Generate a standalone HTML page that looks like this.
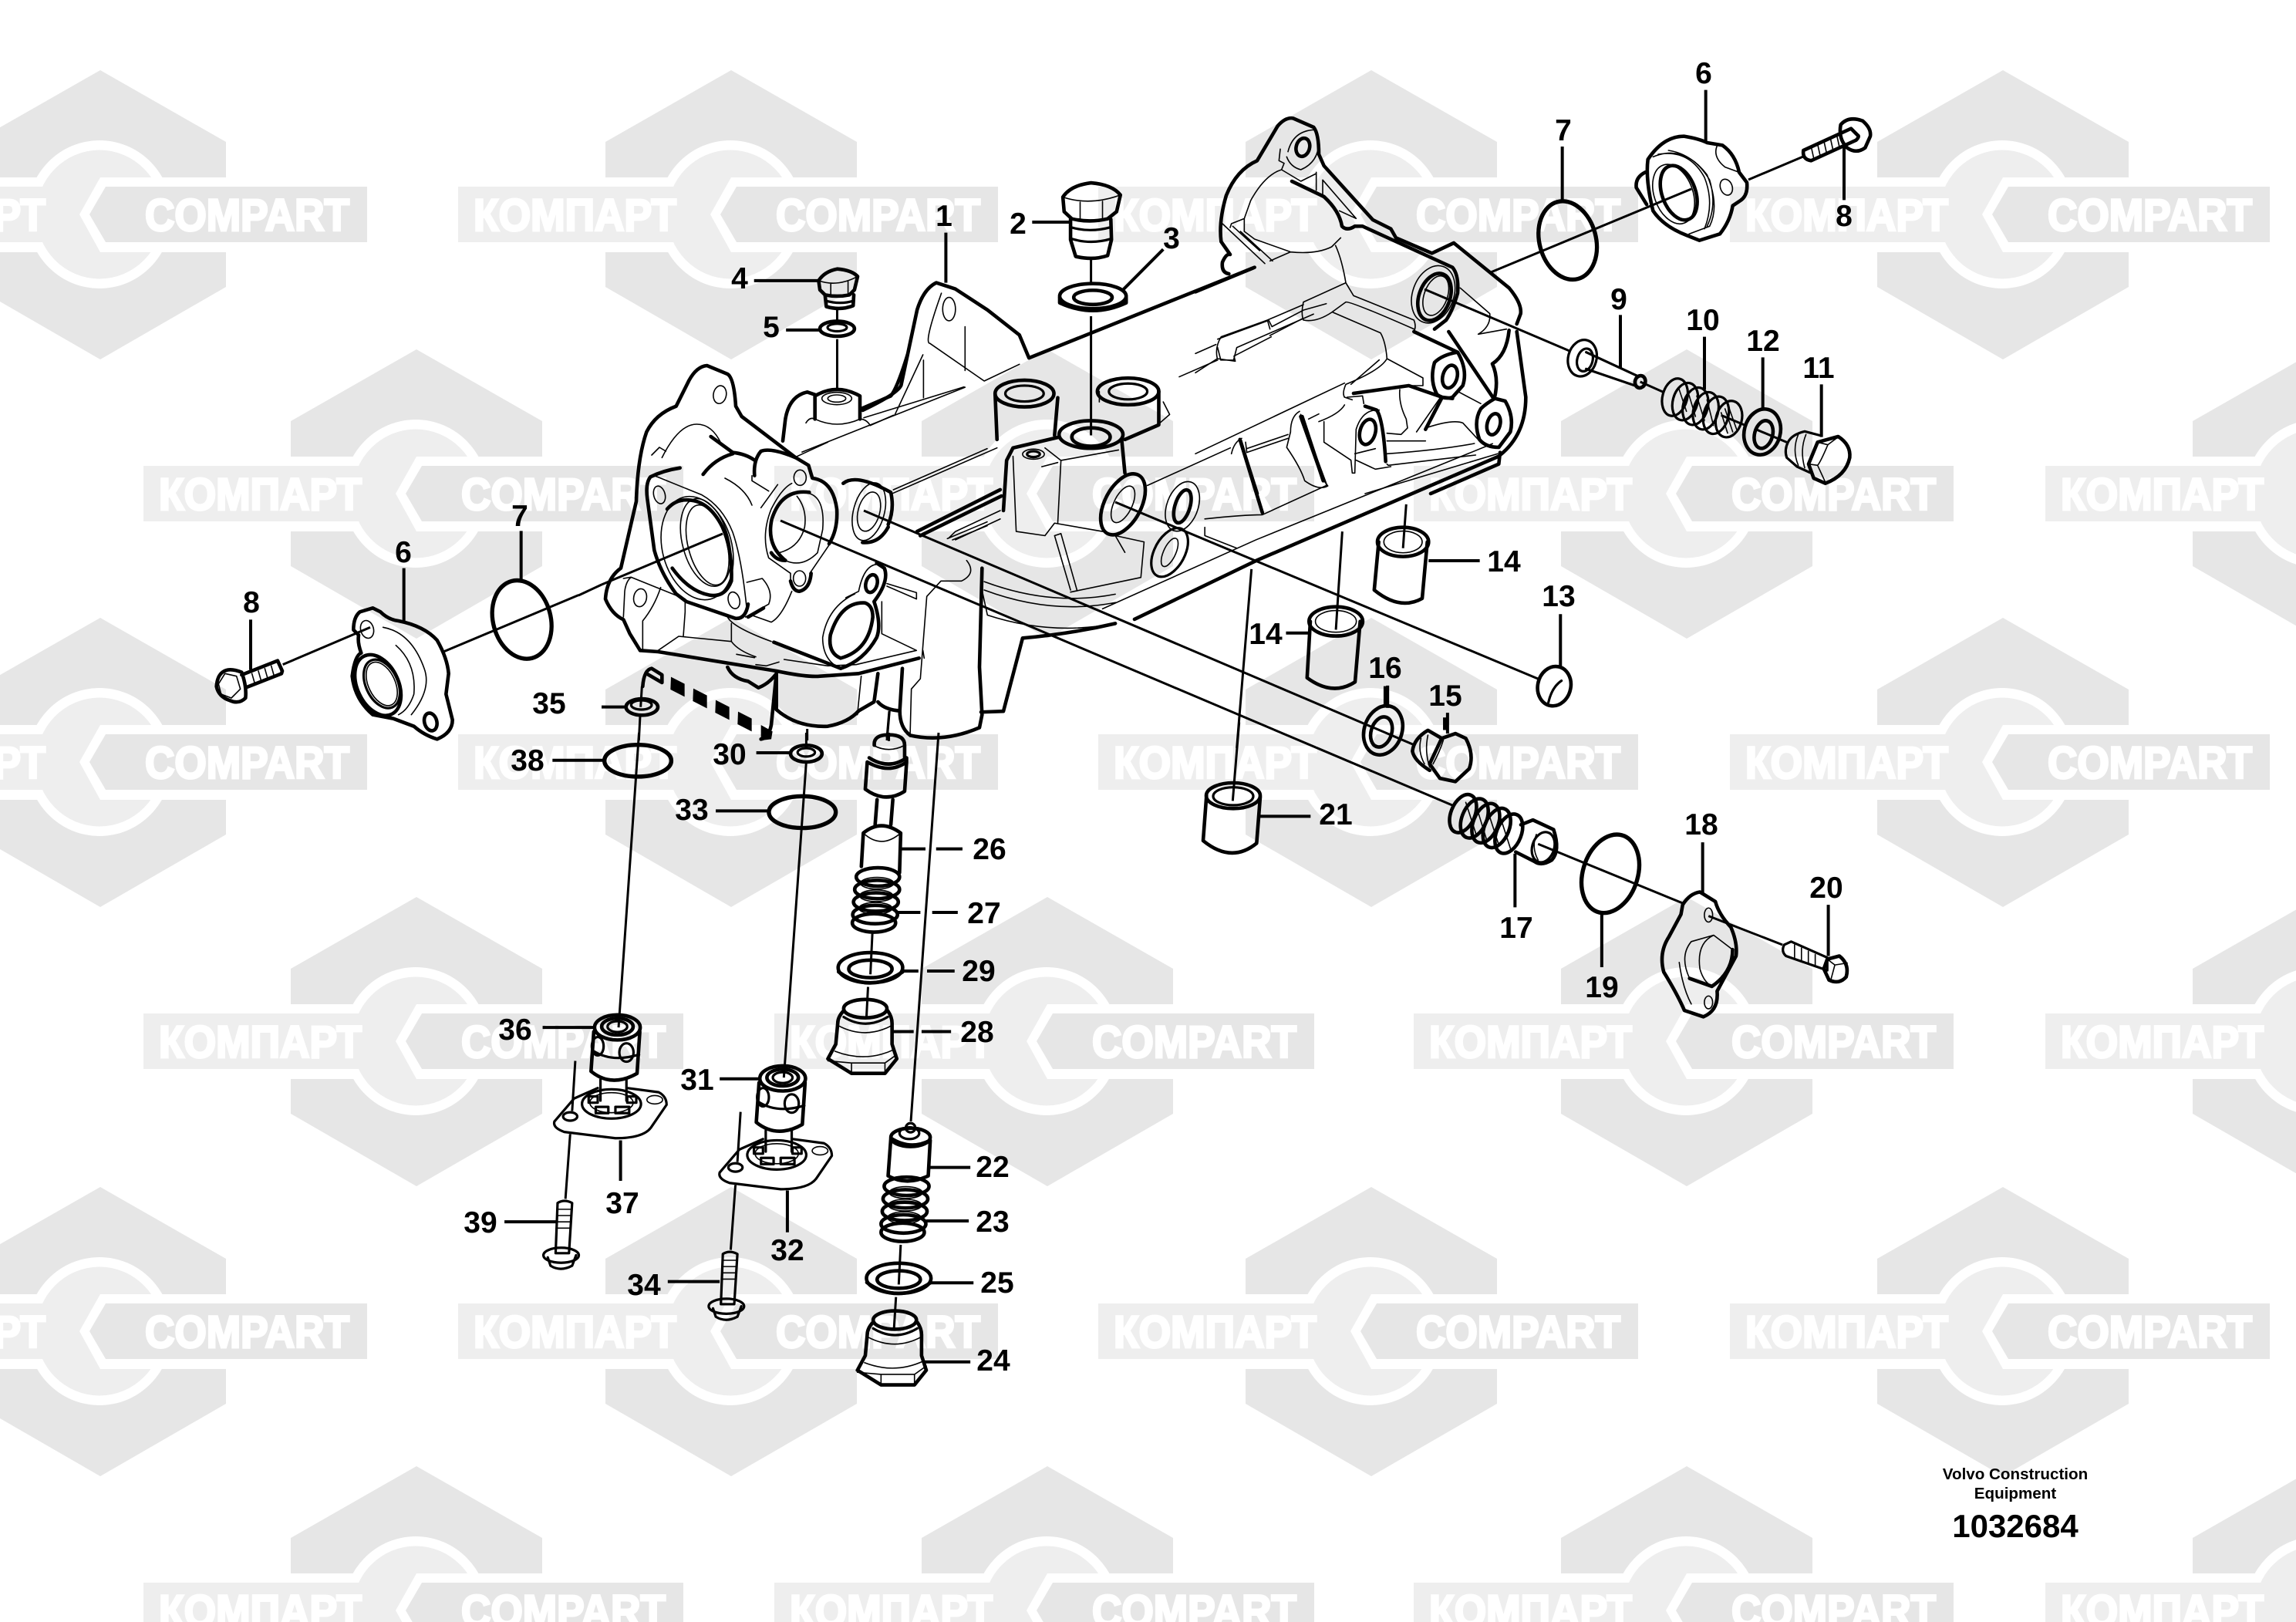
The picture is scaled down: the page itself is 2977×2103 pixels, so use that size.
<!DOCTYPE html>
<html><head><meta charset="utf-8"><title>Diagram 1032684</title>
<style>
html,body{margin:0;padding:0;background:#fff;width:2977px;height:2103px;overflow:hidden}
svg{display:block}
#art *{fill:none;stroke:#000;vector-effect:non-scaling-stroke;stroke-linejoin:round;stroke-linecap:round}
#art .t{stroke-width:4.6}
#art .o{stroke-width:5.4}
#art .m{stroke-width:3.2}
#art .n{stroke-width:1.6}
#art .l{stroke-width:3;stroke-linecap:butt}
#art .d{stroke-width:4;stroke-linecap:butt}
#art .f{fill:#000;stroke:none}
.c,.k{font:bold 58px "Liberation Sans",sans-serif;fill:#fff;stroke:#fff;stroke-width:3}
.b text{font:bold 39px "Liberation Sans",sans-serif;fill:#000;text-anchor:middle}
.v{font:bold 20.6px "Liberation Sans",sans-serif;fill:#000;text-anchor:middle}
.w{font:bold 42px "Liberation Sans",sans-serif;fill:#000;text-anchor:middle}
</style></head><body>
<svg xmlns="http://www.w3.org/2000/svg" width="2977" height="2103" viewBox="0 0 2977 2103">
<defs>
<g id="w">
<polygon fill="#e6e6e6" points="0,-187 163,-94 163,94 0,188 -163,94 -163,-94"/>
<rect x="-163" y="-48" width="326" height="97" fill="#fff"/>
<ellipse cx="-1" cy="0" rx="94" ry="96" fill="#fff"/>
<ellipse cx="-1" cy="0" rx="82" ry="83.5" fill="#eee"/>
<rect x="-354" y="-36" width="300" height="72" fill="#eee"/>
<polygon fill="#fff" points="0,-48 -27,0 0,49 90,49 90,-48"/>
<polygon fill="#e6e6e6" points="7,-36 -14,0 7,36 346,36 346,-36"/>
</g>
</defs>
<rect width="2977" height="2103" fill="#fff"/>
<!-- watermark -->
<g>
<use href="#w" x="130" y="278"/><use href="#w" x="948" y="278"/><use href="#w" x="1778" y="278"/><use href="#w" x="2597" y="278"/>
<use href="#w" x="540" y="640"/><use href="#w" x="1358" y="640"/><use href="#w" x="2187" y="640"/><use href="#w" x="3006" y="640"/>
<use href="#w" x="130" y="988"/><use href="#w" x="948" y="988"/><use href="#w" x="1778" y="988"/><use href="#w" x="2597" y="988"/>
<use href="#w" x="540" y="1350"/><use href="#w" x="1358" y="1350"/><use href="#w" x="2187" y="1350"/><use href="#w" x="3006" y="1350"/>
<use href="#w" x="130" y="1726"/><use href="#w" x="948" y="1726"/><use href="#w" x="1778" y="1726"/><use href="#w" x="2597" y="1726"/>
<use href="#w" x="540" y="2088"/><use href="#w" x="1358" y="2088"/><use href="#w" x="2187" y="2088"/><use href="#w" x="3006" y="2088"/>
</g>
<g>
<text class="k" x="-204" y="299" textLength="263" lengthAdjust="spacingAndGlyphs">КОМПАРТ</text><text class="c" x="188" y="299" textLength="265" lengthAdjust="spacingAndGlyphs">COMPART</text>
<text class="k" x="614" y="299" textLength="263" lengthAdjust="spacingAndGlyphs">КОМПАРТ</text><text class="c" x="1006" y="299" textLength="265" lengthAdjust="spacingAndGlyphs">COMPART</text>
<text class="k" x="1444" y="299" textLength="263" lengthAdjust="spacingAndGlyphs">КОМПАРТ</text><text class="c" x="1836" y="299" textLength="265" lengthAdjust="spacingAndGlyphs">COMPART</text>
<text class="k" x="2263" y="299" textLength="263" lengthAdjust="spacingAndGlyphs">КОМПАРТ</text><text class="c" x="2655" y="299" textLength="265" lengthAdjust="spacingAndGlyphs">COMPART</text>
<text class="k" x="206" y="661" textLength="263" lengthAdjust="spacingAndGlyphs">КОМПАРТ</text><text class="c" x="598" y="661" textLength="265" lengthAdjust="spacingAndGlyphs">COMPART</text>
<text class="k" x="1024" y="661" textLength="263" lengthAdjust="spacingAndGlyphs">КОМПАРТ</text><text class="c" x="1416" y="661" textLength="265" lengthAdjust="spacingAndGlyphs">COMPART</text>
<text class="k" x="1853" y="661" textLength="263" lengthAdjust="spacingAndGlyphs">КОМПАРТ</text><text class="c" x="2245" y="661" textLength="265" lengthAdjust="spacingAndGlyphs">COMPART</text>
<text class="k" x="2672" y="661" textLength="263" lengthAdjust="spacingAndGlyphs">КОМПАРТ</text>
<text class="k" x="-204" y="1009" textLength="263" lengthAdjust="spacingAndGlyphs">КОМПАРТ</text><text class="c" x="188" y="1009" textLength="265" lengthAdjust="spacingAndGlyphs">COMPART</text>
<text class="k" x="614" y="1009" textLength="263" lengthAdjust="spacingAndGlyphs">КОМПАРТ</text><text class="c" x="1006" y="1009" textLength="265" lengthAdjust="spacingAndGlyphs">COMPART</text>
<text class="k" x="1444" y="1009" textLength="263" lengthAdjust="spacingAndGlyphs">КОМПАРТ</text><text class="c" x="1836" y="1009" textLength="265" lengthAdjust="spacingAndGlyphs">COMPART</text>
<text class="k" x="2263" y="1009" textLength="263" lengthAdjust="spacingAndGlyphs">КОМПАРТ</text><text class="c" x="2655" y="1009" textLength="265" lengthAdjust="spacingAndGlyphs">COMPART</text>
<text class="k" x="206" y="1371" textLength="263" lengthAdjust="spacingAndGlyphs">КОМПАРТ</text><text class="c" x="598" y="1371" textLength="265" lengthAdjust="spacingAndGlyphs">COMPART</text>
<text class="k" x="1024" y="1371" textLength="263" lengthAdjust="spacingAndGlyphs">КОМПАРТ</text><text class="c" x="1416" y="1371" textLength="265" lengthAdjust="spacingAndGlyphs">COMPART</text>
<text class="k" x="1853" y="1371" textLength="263" lengthAdjust="spacingAndGlyphs">КОМПАРТ</text><text class="c" x="2245" y="1371" textLength="265" lengthAdjust="spacingAndGlyphs">COMPART</text>
<text class="k" x="2672" y="1371" textLength="263" lengthAdjust="spacingAndGlyphs">КОМПАРТ</text>
<text class="k" x="-204" y="1747" textLength="263" lengthAdjust="spacingAndGlyphs">КОМПАРТ</text><text class="c" x="188" y="1747" textLength="265" lengthAdjust="spacingAndGlyphs">COMPART</text>
<text class="k" x="614" y="1747" textLength="263" lengthAdjust="spacingAndGlyphs">КОМПАРТ</text><text class="c" x="1006" y="1747" textLength="265" lengthAdjust="spacingAndGlyphs">COMPART</text>
<text class="k" x="1444" y="1747" textLength="263" lengthAdjust="spacingAndGlyphs">КОМПАРТ</text><text class="c" x="1836" y="1747" textLength="265" lengthAdjust="spacingAndGlyphs">COMPART</text>
<text class="k" x="2263" y="1747" textLength="263" lengthAdjust="spacingAndGlyphs">КОМПАРТ</text><text class="c" x="2655" y="1747" textLength="265" lengthAdjust="spacingAndGlyphs">COMPART</text>
<text class="k" x="206" y="2109" textLength="263" lengthAdjust="spacingAndGlyphs">КОМПАРТ</text><text class="c" x="598" y="2109" textLength="265" lengthAdjust="spacingAndGlyphs">COMPART</text>
<text class="k" x="1024" y="2109" textLength="263" lengthAdjust="spacingAndGlyphs">КОМПАРТ</text><text class="c" x="1416" y="2109" textLength="265" lengthAdjust="spacingAndGlyphs">COMPART</text>
<text class="k" x="1853" y="2109" textLength="263" lengthAdjust="spacingAndGlyphs">КОМПАРТ</text><text class="c" x="2245" y="2109" textLength="265" lengthAdjust="spacingAndGlyphs">COMPART</text>
<text class="k" x="2672" y="2109" textLength="263" lengthAdjust="spacingAndGlyphs">КОМПАРТ</text>
</g>

<g id="art">
<!-- A: left end of body -->
<g transform="translate(780,460) scale(.33333)">
<path class="t" d="M150 1150L110 1085L85 1030Q40 1010 15 950Q20 870 75 830L135 570Q140 400 175 300Q210 230 290 200L340 100Q370 45 410 42L490 75Q515 90 522 200L545 240L755 400L805 430L820 480Q900 490 915 600Q920 680 885 735"/>
<path class="t" d="M808 535Q700 520 662 640Q640 740 715 800M305 440Q240 450 190 475Q170 500 178 560L205 760Q230 850 290 930L330 960L520 1025Q560 1030 570 970M255 600Q290 560 340 565Q420 570 470 670Q510 760 505 880Q480 945 420 935Q340 920 275 830"/>
<path class="t" d="M940 500Q990 460 1125 535Q1140 600 1115 660M1115 670Q1080 735 1015 730M705 335L715 250Q730 160 800 145L830 155M830 250V160Q915 110 1005 160V250M1010 210L1125 160Q1150 130 1190 0"/>
<path class="t" d="M425 318L510 380Q560 385 595 410M595 470Q590 410 620 375Q660 360 755 400M395 465Q440 405 510 385M735 880Q745 920 770 920Q810 910 815 850M660 770Q680 800 715 800"/>
<path class="t" d="M150 1150L220 1155L680 1230Q800 1255 850 1250L1000 1240L1235 1180M1025 965Q930 960 890 1090Q880 1160 930 1180Q1040 1150 1055 1020Q1055 975 1025 965M1070 810L1100 830Q1120 880 1060 960Q1090 1050 1070 1100Q1020 1190 930 1220L880 1200L670 1118M630 985L570 1020"/>
<path class="t" d="M490 1215Q510 1260 570 1270L610 1295Q650 1280 680 1240L660 1440Q650 1490 620 1495M680 1240V1380Q760 1450 880 1445Q960 1430 1000 1385L1060 1350L1075 1240M1075 1350Q1100 1380 1160 1385L1170 1220M1160 1385Q1160 1450 1200 1480Q1330 1510 1470 1450L1480 1400L1470 1215L1480 830"/>
<ellipse class="t" cx="1050" cy="890" rx="22" ry="35" transform="rotate(15 1050 890)"/>
<ellipse class="n" cx="372" cy="752" rx="135" ry="205" transform="rotate(-15 372 752)"/>
<ellipse class="n" cx="405" cy="730" rx="90" ry="175" transform="rotate(-15 405 730)"/>
<ellipse class="n" cx="412" cy="740" rx="75" ry="160" transform="rotate(-15 412 740)"/>
<ellipse class="n" cx="225" cy="545" rx="22" ry="35" transform="rotate(-15 225 545)"/>
<ellipse class="n" cx="515" cy="955" rx="22" ry="33" transform="rotate(-15 515 955)"/>
<ellipse class="n" cx="460" cy="155" rx="25" ry="35" transform="rotate(10 460 155)"/>
<ellipse class="n" cx="150" cy="945" rx="25" ry="35" transform="rotate(10 150 945)"/>
<ellipse class="n" cx="772" cy="478" rx="24" ry="30"/><ellipse class="n" cx="770" cy="870" rx="24" ry="30"/>
<ellipse class="n" cx="1040" cy="610" rx="60" ry="115" transform="rotate(15 1040 610)"/>
<ellipse class="n" cx="1040" cy="610" rx="42" ry="78" transform="rotate(15 1040 610)"/>
<ellipse class="n" cx="915" cy="170" rx="58" ry="24"/><ellipse class="n" cx="915" cy="170" rx="35" ry="14"/>
<path class="n" d="M205 470L390 545Q470 590 510 690Q545 790 565 990M830 250Q915 290 1005 250M795 265Q810 240 830 250M1005 250Q1030 250 1045 275L1135 235M1250 0L1140 235M1410 125L1020 245M750 400L880 340M1135 525L1500 365M1500 650L1345 715M1500 665L1365 720"/>
<path class="n" d="M235 400Q300 270 370 270Q430 270 465 345M195 390L225 360L250 375M585 470V490L650 530M685 505L620 595M480 480Q560 520 585 585M740 500Q700 520 660 600Q620 700 650 790L735 850V880M810 850L885 740M760 550Q800 600 790 670Q770 750 690 770M810 540Q870 560 860 680L840 770Q780 830 715 800"/>
<path class="n" d="M220 1150L300 1095L505 1115M985 930Q880 980 860 1100Q860 1190 930 1220M1070 815Q1020 820 1000 920L950 945M85 870L115 865L325 950V1000L318 1095M85 1020L90 920Q95 880 115 865M160 1150V1035Q205 980 230 905M565 885L625 870Q670 920 650 970L560 1020M740 920Q700 1020 660 1040L590 1015M490 1020Q510 1060 660 1115M505 1045V1115Q530 1150 600 1175M525 1165L595 1178M690 1195L640 1210L600 1205M710 1185L880 1210L990 1205L1225 1150L1090 1085V960M1110 890L1225 925V950L1110 900M1010 1250L995 1400M1200 1485L1205 1300L1240 1260L1265 940L1320 880H1400Q1460 850 1420 800M1250 1150L1255 1180"/>
<!-- dashed bracket 35-30 -->
<path class="t" d="M160 1290Q165 1225 195 1220L235 1245V1275L175 1240"/>
<polygon class="f" points="270,1253 323,1280 323,1330 268,1302"/>
<polygon class="f" points="357,1298 410,1325 410,1375 355,1347"/>
<polygon class="f" points="444,1343 497,1370 497,1420 442,1392"/>
<polygon class="f" points="531,1388 584,1415 584,1465 529,1437"/>
<polygon class="f" points="620,1440 665,1465 660,1495 620,1500"/>
<!-- washer 35 -->
<ellipse class="t" cx="157" cy="1370" rx="62" ry="32"/><ellipse class="m" cx="155" cy="1362" rx="40" ry="18"/>
<path class="l" d="M157 1290L152 1370M150 1405L145 1500M800 1455V1500M1120 1385L1110 1500"/>
<path class="d" d="M0 1370H90"/>
</g>
<!-- B: right end of body -->
<g transform="translate(1550,140) scale(.33333)">
<path class="t" d="M0 715L230 620M130 645Q100 640 105 600Q120 565 135 570L100 520Q90 440 120 340Q160 240 240 205L320 70Q350 35 380 40L460 75Q480 100 480 180L500 225L690 435L760 470L780 505L920 565L1005 525L1220 700Q1270 760 1265 800L1250 840"/>
<path class="t" d="M375 285L500 345Q560 400 570 460Q590 480 620 460H650L1000 620Q1025 650 1020 720Q1000 790 975 825L930 860M615 1110L830 1080L960 1125L1000 1130M850 870L1020 950Q1060 1020 1040 1080L1000 1125Q970 1135 940 1115Q910 1060 930 990Q960 960 1020 950M985 870L1160 1130M1220 865Q1210 960 1155 995Q1180 1050 1165 1120M1250 870L1285 1125Q1285 1270 1185 1350M1165 1130L1205 1140Q1240 1200 1225 1260L1180 1320Q1130 1320 1105 1290Q1080 1220 1110 1170Q1130 1150 1165 1130M960 1125L895 1250M660 1160L705 1175Q730 1210 740 1375M415 1200L497 1450M175 1295L240 1500M1185 1340L1180 1385L915 1500"/>
<ellipse class="t" cx="930" cy="735" rx="60" ry="95" transform="rotate(20 930 735)"/>
<ellipse class="n" cx="925" cy="725" rx="80" ry="115" transform="rotate(20 925 725)"/>
<ellipse class="n" cx="935" cy="730" rx="45" ry="80" transform="rotate(20 935 730)"/>
<ellipse class="t" cx="418" cy="153" rx="26" ry="36" transform="rotate(15 418 153)"/>
<ellipse class="t" cx="990" cy="1045" rx="28" ry="45" transform="rotate(15 990 1045)"/>
<ellipse class="t" cx="1160" cy="1230" rx="25" ry="42" transform="rotate(15 1160 1230)"/>
<ellipse class="t" cx="670" cy="1260" rx="30" ry="50" transform="rotate(15 670 1260)"/>
<path class="n" d="M360 170Q380 90 460 85M355 190Q370 230 410 240Q480 210 480 130M330 160L325 205L345 215L335 240Q270 260 215 360L190 430L140 450L135 465M335 240L410 285L470 255M470 250V320M495 280V345M495 280L625 430L560 400M190 430V480L230 510L370 560Q470 570 530 540L565 505M370 560L290 595M105 450L270 605M145 460L250 555M175 480L300 595"/>
<path class="n" d="M545 535Q570 590 585 680L420 755Q410 800 420 825Q470 835 530 795L585 755Q600 750 850 860M585 680L615 730L850 825Q860 850 850 870M420 765L280 825L290 860M415 820L290 885M535 795L720 875Q740 910 745 975L885 1050V1080H830M745 975Q720 1020 585 1075Q570 1110 580 1125L610 1135M715 980L605 1075M280 825L100 890Q75 930 85 975L155 985L150 965L295 890M80 920L0 955M85 975L0 1030"/>
<path class="n" d="M950 1130L860 1260M895 1245Q1000 1210 1040 1225L1100 1290M1025 1105L1110 1150M795 1095Q790 1150 820 1210L825 1245L800 1270L745 1265M745 1295H895M745 1345Q950 1330 1085 1305M745 1385L750 1390L1090 1350M715 1175Q650 1170 625 1250L620 1420H610L605 1370L500 1300V1220M620 1345L700 1325M625 1370L700 1405L760 1395M580 1155Q560 1190 480 1220M590 1125L650 1120L655 1150M405 1180Q370 1200 370 1260L355 1320Q410 1400 425 1450Q480 1490 515 1470L500 1450M180 1285Q150 1300 140 1345M195 1300L200 1340M580 1070L0 1345M360 1285L200 1340M360 1270L200 1325M440 1210L480 1190M1175 1345L660 1500M1030 700L1145 800Q1150 850 1100 880L1210 860"/>
</g>
<!-- C: mid body, plugs, bushes -->
<g transform="translate(700,120) scale(.829,.542)">
<path class="t" d="M505 760Q560 720 565 700L590 520Q600 470 620 455L650 470L700 520L750 580L765 635L1115 420M755 1305L725 1480L690 1482M755 1305Q830 1295 900 1270M930 1260L1120 1120L1500 870"/>
<path class="n" d="M628 480Q600 600 610 600L695 690L750 650M600 640V730M665 705L410 860M665 560V665M550 960L715 850M950 940L1080 850M1060 610L1065 640H1085L1090 610L1210 530M1060 590L1140 545L1145 560L1195 520L1230 505M1000 680L1060 640M975 740L985 770L970 790M880 1235L1120 1070L1490 840M690 1180L700 1250Q800 1300 900 1270M695 1170Q800 1230 900 1200M695 1190Q800 1250 900 1220M830 1190L805 1060L815 1055L840 1190M830 1195L940 1160L945 1075L900 1060L915 1100M1040 1020Q1100 1010 1130 1010L1230 940V935L1190 770M1040 1040V1060L1090 1090"/>
<ellipse class="n" cx="640" cy="518" rx="10" ry="28"/>
<path class="t" d="M590 1050L720 950M595 1060L722 965M1095 830L1130 1005M1190 775L1225 925"/>
<!-- tubes -->
<ellipse class="t" cx="758" cy="720" rx="46" ry="32"/><ellipse class="m" cx="758" cy="720" rx="30" ry="19"/>
<path class="t" d="M712 720L715 830M810 730L805 820"/>
<ellipse class="t" cx="920" cy="715" rx="48" ry="32"/><ellipse class="m" cx="920" cy="715" rx="30" ry="19"/>
<path class="t" d="M968 715V795L915 830"/><path class="n" d="M875 715V740"/>
<ellipse class="t" cx="862" cy="818" rx="50" ry="33"/><ellipse class="t" cx="862" cy="824" rx="30" ry="22"/>
<path class="t" d="M910 830L915 910M810 825L740 850L730 880L725 1000"/>
<ellipse class="n" cx="772" cy="865" rx="17" ry="12"/><ellipse class="m" cx="772" cy="865" rx="10" ry="7"/>
<path class="n" d="M790 850L815 880L905 855M785 895L810 885M740 870L745 1050L790 1060L805 1030L880 1050M815 880L810 1030M720 1000L650 1050L640 1065M720 1020L650 1070"/>
<ellipse class="t" cx="912" cy="985" rx="30" ry="75" transform="rotate(15 912 985)"/><ellipse class="n" cx="912" cy="985" rx="15" ry="45" transform="rotate(15 912 985)"/>
<ellipse class="n" cx="1005" cy="990" rx="25" ry="60" transform="rotate(10 1005 990)"/><ellipse class="t" cx="1005" cy="990" rx="12" ry="40" transform="rotate(10 1005 990)"/>
<ellipse class="m" cx="985" cy="1100" rx="25" ry="60" transform="rotate(15 985 1100)"/><ellipse class="n" cx="985" cy="1100" rx="10" ry="35" transform="rotate(15 985 1100)"/>
<!-- plug 2 -->
<path class="t" d="M818 250Q830 222 862 216Q895 220 908 245L902 285L888 302Q860 312 832 302L820 285ZM830 303V352L838 392Q865 402 888 390L894 352L893 303"/>
<path class="n" d="M818 250Q860 272 908 245M845 262V306M880 260V304"/>
<path class="m" d="M830 322Q860 336 893 322M832 350Q862 364 893 350"/>
<!-- washer 3 -->
<ellipse class="t" cx="865" cy="487" rx="52" ry="30"/><path class="t" d="M813 490V503Q865 540 917 503V490"/><ellipse class="t" cx="865" cy="490" rx="30" ry="17"/>
<!-- plug 4 -->
<path class="t" d="M436 450Q445 428 465 422Q488 425 497 440L492 472L484 484Q465 490 446 484L438 472ZM446 484L448 512Q470 522 490 510L491 484"/>
<path class="n" d="M436 450Q465 466 497 440M455 458V482M482 452V480"/><path class="m" d="M447 498Q470 508 491 498"/>
<ellipse class="t" cx="465" cy="565" rx="27" ry="18"/><ellipse class="m" cx="465" cy="562" rx="15" ry="9"/>
<!-- bushes 14 -->
<ellipse class="t" cx="1350" cy="1075" rx="40" ry="35"/><ellipse class="n" cx="1350" cy="1075" rx="30" ry="26"/>
<path class="t" d="M1312 1075L1305 1190Q1345 1240 1380 1210L1388 1075"/>
<ellipse class="t" cx="1245" cy="1265" rx="42" ry="35"/><ellipse class="n" cx="1245" cy="1265" rx="32" ry="26"/>
<path class="t" d="M1205 1265L1200 1400Q1240 1445 1275 1410L1283 1265"/>
<path class="l" d="M465 515V545M465 590V710M862 395V455M862 535V820M1355 985L1350 1090M1255 1050L1245 1285M1113 1140L1090 1568"/>
<path class="d" d="M635 335V455M770 310H830M975 375L910 475M335 450H435M385 568H440M1390 1120H1470M1167 1293H1205M1322 1420V1465M1415 1495V1525"/>
</g>
<!-- long exploded lines -->
<path class="l" d="M780 758L937 692M1012 675L1883 1044M1120 662L1834 966M1446 651L1994 880"/>
<path class="l" d="M750 772L780 758M1847 375L2035 455M1933 353L2193 245M2267 233L2338 203"/>
<path class="l" d="M1217 950L1181 1454M1153 922L1150 957"/>
<!-- D: lower stack -->
<g transform="translate(650,950) scale(.5102,.542)">
<ellipse class="o" cx="347" cy="67" rx="85" ry="38"/><ellipse class="o" cx="765" cy="190" rx="85" ry="38"/>
<ellipse class="t" cx="775" cy="50" rx="40" ry="20"/><ellipse class="m" cx="775" cy="47" rx="22" ry="10"/>
<path class="l" d="M350 0L298 705M775 0V35M775 70L718 825"/>
<!-- 26 -->
<path class="t" d="M948 30Q945 5 985 5Q1025 5 1025 30V60M935 60Q985 90 1030 60V70Q985 100 930 70L925 135Q975 170 1025 140L1030 70M955 160L950 220M995 160L990 220M920 240Q965 205 1015 240L1012 335M920 240L915 320"/>
<path class="n" d="M945 30Q985 50 1025 30M920 240Q965 280 1015 240"/>
<path class="l" d="M985 0V20"/>
<!-- 27 -->
<ellipse class="t" cx="957" cy="345" rx="55" ry="22"/><ellipse class="t" cx="955" cy="375" rx="57" ry="22"/><ellipse class="t" cx="952" cy="405" rx="57" ry="22"/><ellipse class="t" cx="950" cy="435" rx="57" ry="22"/><ellipse class="t" cx="947" cy="455" rx="55" ry="22"/>
<ellipse class="n" cx="955" cy="360" rx="42" ry="14"/><ellipse class="n" cx="953" cy="390" rx="42" ry="14"/><ellipse class="n" cx="951" cy="420" rx="42" ry="14"/>
<path class="l" d="M943 480L938 578M932 608L928 680"/>
<ellipse class="t" cx="938" cy="562" rx="82" ry="36"/><ellipse class="t" cx="938" cy="565" rx="55" ry="21"/><path class="t" d="M857 572Q935 625 1020 572"/>
<!-- 28 -->
<ellipse class="t" cx="925" cy="660" rx="55" ry="22"/>
<path class="t" d="M870 665Q855 680 855 695L850 745L830 780L890 815H975L1005 780L993 745L993 695Q993 680 982 665"/>
<path class="m" d="M870 680Q925 712 982 680"/>
<path class="n" d="M855 700Q925 735 993 700M848 762Q925 790 998 758M890 790V815M975 790V815M830 785L890 790H975L1005 770"/>
<!-- 24 -->
<g transform="translate(75,745)">
<ellipse class="t" cx="925" cy="660" rx="55" ry="22"/>
<path class="t" d="M870 665Q855 680 855 695L850 745L830 780L890 815H975L1005 780L993 745L993 695Q993 680 982 665"/>
<path class="m" d="M870 680Q925 712 982 680"/>
<path class="n" d="M855 700Q925 735 993 700M848 762Q925 790 998 758M890 790V815M975 790V815M830 785L890 790H975L1005 770"/>
</g>
<!-- 36 -->
<ellipse class="t" cx="295" cy="705" rx="58" ry="30"/><ellipse class="t" cx="295" cy="703" rx="40" ry="20"/><ellipse class="m" cx="295" cy="703" rx="25" ry="13"/>
<path class="t" d="M235 715L228 810Q280 850 345 815L352 715"/>
<ellipse class="m" cx="245" cy="750" rx="15" ry="22"/><ellipse class="m" cx="318" cy="765" rx="18" ry="22"/>
<path class="m" d="M232 760Q280 790 350 770M252 830V880M318 830V880M135 930L185 875L245 850M320 850L400 860Q420 870 420 890L380 945Q360 970 290 970L160 955Q130 945 135 930"/>
<ellipse class="m" cx="280" cy="888" rx="75" ry="35"/><ellipse class="n" cx="280" cy="885" rx="55" ry="24"/>
<path class="m" d="M222 870H245V885H222ZM320 870H343V885H320ZM240 895H272V910H240ZM290 895H325V910H290Z"/>
<ellipse class="m" cx="175" cy="918" rx="18" ry="10"/><ellipse class="n" cx="390" cy="878" rx="20" ry="10"/>
<path class="l" d="M188 785L180 905M175 960L163 1115"/>
<!-- 31 -->
<g transform="translate(420,122)">
<ellipse class="t" cx="295" cy="705" rx="58" ry="30"/><ellipse class="t" cx="295" cy="703" rx="40" ry="20"/><ellipse class="m" cx="295" cy="703" rx="25" ry="13"/>
<path class="t" d="M235 715L228 810Q280 850 345 815L352 715"/>
<ellipse class="m" cx="245" cy="750" rx="15" ry="22"/><ellipse class="m" cx="318" cy="765" rx="18" ry="22"/>
<path class="m" d="M232 760Q280 790 350 770M252 830V880M318 830V880M135 930L185 875L245 850M320 850L400 860Q420 870 420 890L380 945Q360 970 290 970L160 955Q130 945 135 930"/>
<ellipse class="m" cx="280" cy="888" rx="75" ry="35"/><ellipse class="n" cx="280" cy="885" rx="55" ry="24"/>
<path class="m" d="M222 870H245V885H222ZM320 870H343V885H320ZM240 895H272V910H240ZM290 895H325V910H290Z"/>
<ellipse class="m" cx="175" cy="918" rx="18" ry="10"/><ellipse class="n" cx="390" cy="878" rx="20" ry="10"/>
<path class="l" d="M188 785L180 905M175 960L163 1115"/>
</g>
<!-- bolt 39 -->
<path class="m" d="M143 1125Q160 1115 180 1125L172 1245H138ZM118 1255L125 1275Q150 1290 180 1275L190 1250"/><ellipse class="m" cx="152" cy="1250" rx="45" ry="18"/>
<path class="n" d="M142 1140H178M141 1155H177M140 1170H176M139 1185H175"/>
<!-- bolt 34 -->
<g transform="translate(420,122)">
<path class="m" d="M143 1125Q160 1115 180 1125L172 1245H138ZM118 1255L125 1275Q150 1290 180 1275L190 1250"/><ellipse class="m" cx="152" cy="1250" rx="45" ry="18"/>
<path class="n" d="M142 1140H178M141 1155H177M140 1170H176M139 1185H175"/>
</g>
<!-- 22 -->
<path class="t" d="M990 970Q1040 1000 1090 975L1085 1060Q1030 1085 983 1060Z"/>
<ellipse class="t" cx="1040" cy="968" rx="50" ry="22"/><ellipse class="m" cx="1037" cy="958" rx="25" ry="14"/><ellipse class="m" cx="1040" cy="945" rx="12" ry="11"/>
<!-- 23 -->
<ellipse class="t" cx="1030" cy="1085" rx="57" ry="22"/><ellipse class="t" cx="1027" cy="1115" rx="57" ry="22"/><ellipse class="t" cx="1025" cy="1145" rx="57" ry="22"/><ellipse class="t" cx="1022" cy="1175" rx="57" ry="22"/><ellipse class="t" cx="1020" cy="1195" rx="55" ry="22"/>
<ellipse class="n" cx="1028" cy="1100" rx="42" ry="14"/><ellipse class="n" cx="1026" cy="1130" rx="42" ry="14"/><ellipse class="n" cx="1024" cy="1160" rx="42" ry="14"/>
<path class="l" d="M1015 1225L1010 1320M1003 1350L998 1425"/>
<ellipse class="t" cx="1010" cy="1305" rx="82" ry="36"/><ellipse class="t" cx="1010" cy="1308" rx="55" ry="21"/><path class="t" d="M929 1315Q1007 1368 1092 1315"/>
<path class="d" d="M1012 278H1078M1105 278H1172M1005 430H1065M1095 430H1160M1022 570H1060M1082 570H1152M990 715H1048M1068 715H1143M105 705H235M555 828H655M1085 1040H1192M1080 1168H1188M1090 1316H1200M1075 1505H1192M303 975V1072M727 1095V1195M423 1313H555M8 1170H140M130 66H262M545 187H680M648 48H735"/>
</g>
<!-- part 21 -->
<g transform="translate(1500,920) scale(.33333)">
<ellipse class="t" cx="297" cy="335" rx="105" ry="50"/><ellipse class="m" cx="297" cy="337" rx="78" ry="35"/>
<path class="t" d="M193 335L180 510Q290 600 388 520L402 340"/>
<path class="l" d="M320 50L295 355"/>
<path class="d" d="M400 415H598"/>
</g>
<!-- E: right-lower parts -->
<g transform="translate(1780,700) scale(.4464,.415)">
<ellipse class="t" cx="527" cy="457" rx="48" ry="62" transform="rotate(10 527 457)"/>
<path class="m" d="M548 440Q520 460 510 508"/>
<path class="d" d="M545 232V400M43 455V525M217 540V605M413 980V1148M665 1170V1335M958 945V1105M1323 1140V1300"/>
<ellipse class="t" cx="30" cy="595" rx="55" ry="78" transform="rotate(15 30 595)"/><ellipse class="t" cx="25" cy="600" rx="30" ry="48" transform="rotate(15 25 600)"/>
<path class="t" d="M200 620L240 605L270 620Q295 670 280 715L240 755L195 745L165 700ZM200 620L160 595Q120 620 115 660Q120 690 165 720"/>
<path class="n" d="M205 625Q195 660 175 700M140 620Q130 660 150 700M160 610Q150 660 165 710"/>
<ellipse class="t" cx="262" cy="855" rx="35" ry="62" transform="rotate(20 262 855)"/><ellipse class="t" cx="295" cy="870" rx="36" ry="64" transform="rotate(20 295 870)"/><ellipse class="t" cx="328" cy="885" rx="36" ry="64" transform="rotate(20 328 885)"/><ellipse class="t" cx="360" cy="900" rx="36" ry="64" transform="rotate(20 360 900)"/><ellipse class="t" cx="395" cy="918" rx="36" ry="64" transform="rotate(20 395 918)"/>
<path class="n" d="M270 820L300 920M300 830L330 935M335 850L365 950M370 865L400 965"/>
<path class="t" d="M430 890L465 875L525 905Q545 970 520 1000Q490 1020 470 1005L415 975"/>
<ellipse class="m" cx="495" cy="960" rx="32" ry="48" transform="rotate(15 495 960)"/><path class="n" d="M475 920Q460 960 480 1000"/>
<path class="l" d="M480 950L900 1135M975 1175L1190 1265"/>
<ellipse class="o" cx="690" cy="1043" rx="80" ry="125" transform="rotate(15 690 1043)"/>
<path class="t" d="M900 1140Q920 1105 950 1100L995 1130Q1005 1170 1040 1210Q1060 1260 1055 1300Q1020 1370 1000 1410Q1005 1470 960 1490L905 1470Q885 1420 845 1350Q830 1290 860 1240L895 1170Z"/>
<ellipse class="n" cx="975" cy="1172" rx="12" ry="22"/><ellipse class="n" cx="975" cy="1445" rx="12" ry="20"/>
<path class="n" d="M925 1255L990 1235L1045 1280M920 1370Q890 1300 925 1255M990 1235Q940 1260 950 1340Q960 1380 985 1395M890 1320Q900 1400 925 1450"/>
<path class="t" d="M1045 1280Q1045 1350 985 1395L920 1370"/>
<path class="m" d="M1195 1265L1215 1255L1320 1305V1345L1200 1300Q1185 1285 1195 1265"/>
<path class="n" d="M1225 1265V1305M1245 1275V1315M1265 1285V1322M1285 1295V1330M1320 1310L1342 1328L1378 1322M1342 1328L1330 1376"/>
<path class="t" d="M1320 1310L1355 1300Q1385 1325 1375 1365Q1355 1390 1325 1375L1310 1340Z"/>
</g>
<!-- F: upper right parts -->
<g transform="translate(1950,60) scale(.33333)">
<path class="t" d="M560 440Q620 350 700 350Q760 360 790 375L850 385Q900 420 915 490L945 530Q950 580 920 600L890 620Q880 680 840 730L760 755L710 735Q620 700 580 640Q550 520 560 440M550 490Q510 510 515 550L555 615"/>
<ellipse class="t" cx="680" cy="570" rx="65" ry="110" transform="rotate(-20 680 570)"/>
<ellipse class="n" cx="660" cy="575" rx="75" ry="120" transform="rotate(-20 660 575)"/>
<path class="n" d="M830 385Q810 430 860 470L915 490M580 430Q700 380 790 500Q840 620 800 700L720 730M640 405Q740 420 800 520Q830 620 790 700M600 420Q720 400 780 510Q820 610 780 710"/>
<ellipse class="n" cx="865" cy="548" rx="23" ry="32" transform="rotate(-20 865 548)"/>
<path class="d" d="M785 170V370M227 390V600M1323 390V598M453 1045V1250M780 1130V1335M1007 1210V1410"/>
<ellipse class="o" cx="248" cy="755" rx="110" ry="155" transform="rotate(-15 248 755)"/>
<path class="t" d="M1310 305Q1340 270 1395 290Q1430 320 1425 350L1405 395Q1370 420 1335 395Q1300 360 1310 305M1165 405L1350 320L1375 345Q1385 350 1370 365L1195 445Q1160 440 1165 405"/>
<path class="n" d="M1195 390L1205 435M1220 380L1230 425M1245 370L1255 415M1270 358L1280 403M1295 347L1305 392"/>
<!-- 9 -->
<ellipse class="m" cx="305" cy="1213" rx="55" ry="72" transform="rotate(15 305 1213)"/><ellipse class="m" cx="315" cy="1220" rx="30" ry="45" transform="rotate(15 315 1220)"/>
<path class="m" d="M320 1190L525 1285M320 1255L510 1320"/><ellipse class="t" cx="530" cy="1305" rx="20" ry="24" transform="rotate(15 530 1305)"/>
</g>
<!-- part 10,12,11 -->
<g transform="translate(2100,460) scale(.33333)">
<path class="l" d="M80 105L170 145M395 235L490 275M530 290L650 340"/>
<ellipse class="m" cx="215" cy="165" rx="48" ry="74" transform="rotate(15 215 165)"/><ellipse class="m" cx="255" cy="182" rx="48" ry="74" transform="rotate(15 255 182)"/><ellipse class="m" cx="295" cy="200" rx="48" ry="74" transform="rotate(15 295 200)"/><ellipse class="m" cx="335" cy="218" rx="48" ry="74" transform="rotate(15 335 218)"/><ellipse class="m" cx="375" cy="235" rx="48" ry="74" transform="rotate(15 375 235)"/><ellipse class="m" cx="425" cy="250" rx="50" ry="72" transform="rotate(15 425 250)"/>
<path class="n" d="M230 130L260 220M265 140L295 240M300 160L330 255M340 175L365 275M410 210L440 300M425 205L455 290M395 225L420 305"/>
<ellipse class="t" cx="555" cy="300" rx="70" ry="90" transform="rotate(15 555 300)"/><ellipse class="t" cx="560" cy="310" rx="35" ry="55" transform="rotate(15 560 310)"/>
<path class="t" d="M770 340L850 318Q900 350 895 400Q880 470 800 500L755 480L735 425Z"/>
<path class="m" d="M785 315L720 298Q670 310 655 340Q640 370 650 400L690 435L740 458"/>
<path class="n" d="M770 340L810 350L850 320M810 350Q780 420 770 430L735 425M770 430L800 495M695 310Q670 370 695 430M725 310Q700 370 720 440"/>
<path class="d" d="M785 115V320"/>
</g>
<!-- G: left flange and bolt -->
<g transform="translate(250,660) scale(.33333)">
<path class="t" d="M115 635Q140 615 190 635Q210 690 205 735Q180 760 145 745Q100 730 92 690Q95 650 115 635M190 645L330 590L348 630L345 640L205 695"/>
<path class="n" d="M125 640L170 650L185 700L150 735L110 720L100 680ZM230 640L240 675M255 630L265 665M280 620L290 655M305 610L315 645"/>
<path class="l" d="M350 605L690 460M975 555L1500 335"/>
<path class="d" d="M225 430V625M821 230V435M1277 85V275"/>
<path class="t" d="M625 470Q625 420 650 400L700 385L730 400Q760 430 800 435Q900 455 950 510Q990 580 995 640L985 720L1010 820Q1010 870 950 895Q900 880 860 845L780 815L700 800Q630 740 620 650Q630 570 655 560Q640 520 645 490Z"/>
<ellipse class="t" cx="720" cy="685" rx="80" ry="125" transform="rotate(-25 720 685)"/>
<ellipse class="m" cx="735" cy="680" rx="62" ry="100" transform="rotate(-25 735 680)"/>
<ellipse class="n" cx="735" cy="680" rx="52" ry="90" transform="rotate(-25 735 680)"/>
<path class="n" d="M740 460Q850 480 900 620Q930 700 850 800M790 530Q870 600 860 720Q840 780 800 800"/>
<ellipse class="t" cx="925" cy="828" rx="24" ry="35" transform="rotate(-15 925 828)"/>
<ellipse class="n" cx="678" cy="468" rx="25" ry="35" transform="rotate(-15 678 468)"/>
<ellipse class="o" cx="1280" cy="430" rx="112" ry="155" transform="rotate(-15 1280 430)"/>
</g>
</g>
<!-- labels -->
<g class="b">
<text x="1224" y="293">1</text><text x="1320" y="303">2</text><text x="1519" y="322">3</text><text x="959" y="374">4</text><text x="1000" y="437">5</text>
<text x="2209" y="108">6</text><text x="523" y="729">6</text><text x="2027" y="182">7</text><text x="674" y="682">7</text><text x="2391" y="293">8</text><text x="326" y="794">8</text>
<text x="2099" y="401">9</text><text x="2208" y="428">10</text><text x="2358" y="490">11</text><text x="2286" y="455">12</text><text x="2021" y="786">13</text>
<text x="1950" y="741">14</text><text x="1641" y="835">14</text><text x="1874" y="915">15</text><text x="1796" y="879">16</text><text x="1966" y="1216">17</text>
<text x="2206" y="1082">18</text><text x="2077" y="1293">19</text><text x="2368" y="1164">20</text><text x="1732" y="1069">21</text><text x="1287" y="1526">22</text>
<text x="1287" y="1597">23</text><text x="1288" y="1777">24</text><text x="1293" y="1676">25</text><text x="1283" y="1114">26</text><text x="1276" y="1197">27</text>
<text x="1267" y="1351">28</text><text x="1269" y="1272">29</text><text x="946" y="991">30</text><text x="904" y="1413">31</text><text x="1021" y="1634">32</text>
<text x="897" y="1063">33</text><text x="835" y="1679">34</text><text x="712" y="925">35</text><text x="668" y="1348">36</text><text x="807" y="1573">37</text>
<text x="684" y="999">38</text><text x="623" y="1598">39</text>
</g>
<text class="v" x="2613" y="1918">Volvo Construction</text>
<text class="v" x="2613" y="1943">Equipment</text>
<text class="w" x="2613" y="1993">1032684</text>
</svg>
</body></html>
